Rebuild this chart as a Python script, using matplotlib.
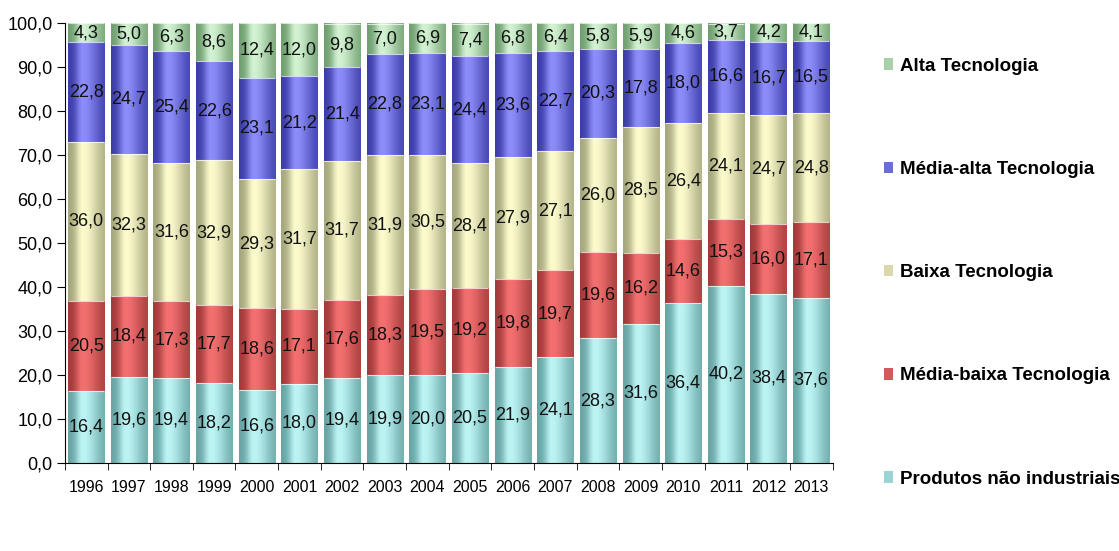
import numpy as np
import matplotlib
matplotlib.use("Agg")
import matplotlib.pyplot as plt
from matplotlib.colors import LinearSegmentedColormap
from matplotlib.patches import Patch
from matplotlib.ticker import FuncFormatter, MultipleLocator

plt.rcParams['font.family'] = ['Liberation Sans', 'DejaVu Sans']

years = [str(y) for y in range(1996, 2014)]

produtos = [16.4, 19.6, 19.4, 18.2, 16.6, 18.0, 19.4, 19.9, 20.0, 20.5, 21.9, 24.1, 28.3, 31.6, 36.4, 40.2, 38.4, 37.6]
media_baixa = [20.5, 18.4, 17.3, 17.7, 18.6, 17.1, 17.6, 18.3, 19.5, 19.2, 19.8, 19.7, 19.6, 16.2, 14.6, 15.3, 16.0, 17.1]
baixa = [36.0, 32.3, 31.6, 32.9, 29.3, 31.7, 31.7, 31.9, 30.5, 28.4, 27.9, 27.1, 26.0, 28.5, 26.4, 24.1, 24.7, 24.8]
media_alta = [22.8, 24.7, 25.4, 22.6, 23.1, 21.2, 21.4, 22.8, 23.1, 24.4, 23.6, 22.7, 20.3, 17.8, 18.0, 16.6, 16.7, 16.5]
alta = [4.3, 5.0, 6.3, 8.6, 12.4, 12.0, 9.8, 7.0, 6.9, 7.4, 6.8, 6.4, 5.8, 5.9, 4.6, 3.7, 4.2, 4.1]

series = [
    ("Produtos não industriais", produtos, "#66a3a3", "#bcf4f4"),
    ("Média-baixa Tecnologia", media_baixa, "#a23a3a", "#f47070"),
    ("Baixa Tecnologia", baixa, "#a6a67c", "#fbfbcc"),
    ("Média-alta Tecnologia", media_alta, "#3c3ca6", "#8c8cfa"),
    ("Alta Tecnologia", alta, "#6e9e6e", "#d2f2d2"),
]

fig = plt.figure(figsize=(11.19, 5.51), dpi=100)
ax = fig.add_axes([0.058, 0.160, 0.686, 0.798])

x = np.arange(len(years))
width = 0.85

# horizontal shading across each bar: dark edges, bright band left of centre
t = np.linspace(0, 1, 80)
shade = np.where(t < 0.4,
                 np.exp(-((t - 0.4) / 0.2) ** 2),
                 np.exp(-((t - 0.4) / 0.45) ** 2))
shade = shade[np.newaxis, :]

bottom = np.zeros(len(years))
handles = []
for name, vals, dark, light in series:
    vals = np.array(vals)
    cmap = LinearSegmentedColormap.from_list(name, [dark, light])
    bars = ax.bar(x, vals, width, bottom=bottom, color="none", edgecolor="none")
    for bar, v in zip(bars, vals):
        x0, y0 = bar.get_x(), bar.get_y()
        w, h = bar.get_width(), bar.get_height()
        ax.imshow(shade, cmap=cmap, vmin=0, vmax=1, aspect="auto",
                  interpolation="bilinear",
                  extent=(x0, x0 + w, y0, y0 + h), zorder=2)
        ax.plot([x0, x0 + w], [y0 + h, y0 + h], color="white", lw=0.8,
                alpha=0.7, zorder=3, solid_capstyle="butt")
        ax.text(x0 + w / 2, y0 + h / 2, f"{v:.1f}".replace(".", ","),
                ha="center", va="center", fontsize=13, color="#111111", zorder=4)
    bottom += vals
    handles.append(Patch(facecolor=cmap(0.6), edgecolor="none", label=name))

ax.set_xlim(-0.47, len(years) - 0.53)
ax.set_ylim(0, 100)

ax.yaxis.set_major_locator(MultipleLocator(10))
ax.yaxis.set_major_formatter(FuncFormatter(lambda v, p: f"{v:.1f}".replace(".", ",")))
ax.tick_params(axis="y", direction="out", length=6, labelsize=13, pad=3)

ax.set_xticks(x)
ax.set_xticklabels(years)
ax.set_xticks(np.arange(len(years) + 1) - 0.5, minor=True)
ax.tick_params(axis="x", which="major", length=0, labelsize=11.5, pad=12)
ax.tick_params(axis="x", which="minor", direction="out", length=5)

for side in ("top", "right"):
    ax.spines[side].set_visible(False)

fig.legend(handles=handles[::-1], loc="center left",
           bbox_to_anchor=(0.790, 0.505), bbox_transform=fig.transFigure,
           frameon=False, borderpad=0, borderaxespad=0,
           handlelength=0.5, handleheight=0.55, handletextpad=0.35,
           labelspacing=4.6, prop={"weight": "bold", "size": 13.5})

fig.savefig("out.png", dpi=100)
